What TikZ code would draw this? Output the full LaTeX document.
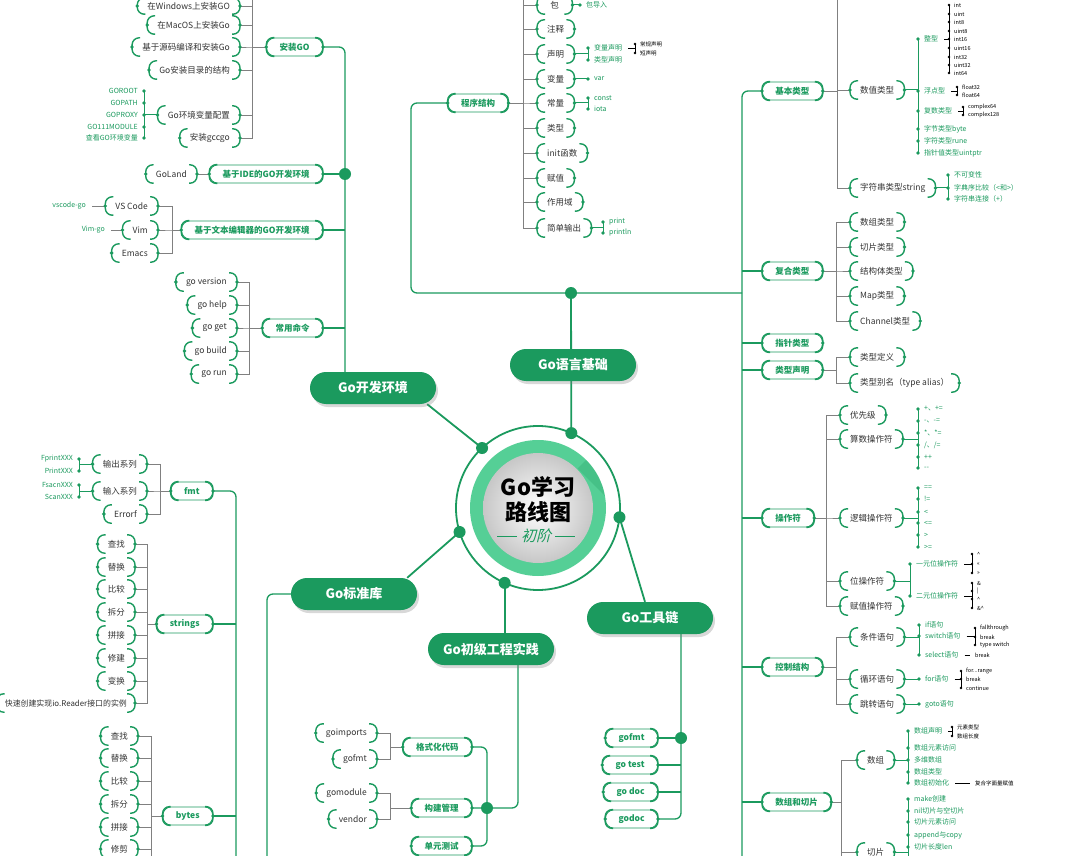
\documentclass[tikz,border=0pt]{standalone}
\usepackage{fontspec}
\setmainfont{Noto Sans CJK SC}
\newfontfamily\slantf[FakeSlant=0.25]{Noto Sans CJK SC}
\usetikzlibrary{shadows,backgrounds}
\definecolor{gm}{HTML}{1B9A5E}
\definecolor{glt}{HTML}{55CF96}
\definecolor{gy}{HTML}{808080}
\definecolor{tx}{HTML}{333333}
\tikzset{
 mainnode/.style={fill=gm, rounded corners=16pt, minimum width=126pt, minimum height=32pt, inner sep=0pt, text=white, font=\fontsize{13}{13}\selectfont\bfseries, drop shadow={opacity=0.3, shadow xshift=2pt, shadow yshift=-3pt}},
 leaf/.style={minimum height=18pt, minimum width=35pt, inner xsep=10pt, inner ysep=0pt, text=tx, font=\fontsize{8.5}{8.5}\selectfont},
 cat/.style={leaf, draw=gm, line width=0.8pt, rounded corners=8pt, inner xsep=13pt, text=gm, font=\fontsize{8.5}{8.5}\selectfont\bfseries},
 brk/.style={draw=gm, line width=1.4pt, rounded corners=7pt},
 gt/.style={anchor=west, inner xsep=6pt, inner ysep=1pt, text=gm, font=\fontsize{7}{7}\selectfont},
 gtl/.style={gt, anchor=east},
 bt/.style={anchor=west, inner xsep=5pt, inner ysep=0.5pt, text=black, font=\fontsize{5.5}{5.5}\selectfont},
 grl/.style={draw=gy, line width=0.9pt},
 gnl/.style={draw=gm, line width=1.3pt},
 gnl2/.style={draw=gm, line width=1pt},
 bkl/.style={draw=black, line width=0.8pt},
 ringl/.style={draw=gm, line width=1.8pt},
}
\newcommand{\mybrk}[1]{%
 \draw[brk] ([xshift=8pt]#1.north west) -- (#1.north west) -- (#1.south west) -- ([xshift=8pt]#1.south west);%
 \draw[brk] ([xshift=-8pt]#1.north east) -- (#1.north east) -- (#1.south east) -- ([xshift=-8pt]#1.south east);%
 \fill[gm] (#1.west) circle (1.9pt) (#1.east) circle (1.9pt);}
\newcommand{\grpL}[3]{\foreach \q in {#3}{\draw[grl] (#1.west) -- (#1.west -| #2) |- (\q.east);}}
\newcommand{\grpR}[3]{\foreach \q in {#3}{\draw[grl] (#1.east) -- (#1.east -| #2) |- (\q.west);}}
\newcommand{\gvl}[4]{\draw[gnl2] (#1.east) -- (#1.east -| #2.west); \draw[gnl2] (#2.west) -- (#3.west); \foreach \q in {#4}{\fill[gm] (\q.west) circle (1.8pt);}}
\newcommand{\gvlL}[4]{\draw[gnl2] (#1.west) -- (#1.west -| #2.east); \draw[gnl2] (#2.east) -- (#3.east); \foreach \q in {#4}{\fill[gm] (\q.east) circle (1.8pt);}}
\newcommand{\bvl}[4]{\draw[bkl] (#1.east) -- (#1.east -| #2.west); \draw[bkl] (#2.west) -- (#3.west); \foreach \q in {#4}{\fill[black] (\q.west) circle (1.4pt);}}
\begin{document}
\begin{tikzpicture}[x=1pt,y=-1pt]
\useasboundingbox (0,0) rectangle (1080,856);
\clip (0,0) rectangle (1080,856);
\coordinate (bottom) at (0,870);
% ---------- center ----------
\coordinate (C) at (538,508);
\draw[ringl] (C) circle (82pt);
\fill[glt] (C) circle (68pt);
\begin{scope}
 \clip (C) circle (68pt);
 \fill[gm, opacity=0.25] (C) ++(-45:56) -- ++(-45:60) -- ++(45:120) -- ++(135:60) -- cycle;
\end{scope}
\shade[inner color=white, outer color=black!22] (C) circle (55pt);
\node[font=\fontsize{22}{25}\selectfont\bfseries, align=center, text=black] (ttl) at (538,500) {Go学习\\路线图};
\node[text=gm, font=\slantf\fontsize{15}{15}\selectfont, inner sep=1pt] (sub) at (536,536) {初阶};
\draw[gm, line width=0.8pt] ([xshift=-3pt]sub.west) -- ++(-20,0);
\draw[gm, line width=0.8pt] ([xshift=3pt]sub.east) -- ++(20,0);
\path (C) ++(-133:82) coordinate (d1);
\path (C) ++(-66:82) coordinate (d2);
\path (C) ++(163:82) coordinate (d3);
\path (C) ++(114:82) coordinate (d4);
\path (C) ++(6.5:82) coordinate (d5);
\foreach \q in {d1,d2,d3,d4,d5} {\fill[gm] (\q) circle (6pt);}
% ---------- main nodes ----------
\node[mainnode] (gokf) at (373,388) {Go开发环境};
\node[mainnode] (gojc) at (573,365) {Go语言基础};
\node[mainnode] (gbzk) at (354,594) {Go标准库};
\node[mainnode] (gcj) at (491,649) {Go初级工程实践};
\node[mainnode] (ggj) at (650,618) {Go工具链};
% ---------- Go开发环境 ----------
\node[cat, anchor=east] (azgo) at (323,47) {安装GO};
\node[leaf, anchor=east, minimum height=16pt] (a1) at (240,6) {在Windows上安装GO};
\node[leaf, anchor=east] (a2) at (240,25) {在MacOS上安装Go};
\node[leaf, anchor=east] (a3) at (240,47) {基于源码编译和安装Go};
\node[leaf, anchor=east] (a4) at (240,70) {Go安装目录的结构};
\node[leaf, anchor=east] (a5) at (240,115) {Go环境变量配置};
\node[leaf, anchor=east] (a6) at (240,138) {安装gccgo};
\coordinate (ba) at (252,-10);
\node[gtl] (e1) at (144,91) {GOROOT};
\node[gtl] (e2) at (144,103) {GOPATH};
\node[gtl] (e3) at (144,115) {GOPROXY};
\node[gtl] (e4) at (144,127) {GO111MODULE};
\node[gtl] (e5) at (144,138) {查看GO环境变量};
\node[cat, anchor=east] (ide) at (323,174) {基于IDE的GO开发环境};
\node[leaf, anchor=east] (goland) at (197,174) {GoLand};
\node[cat, anchor=east] (wbbj) at (323,230) {基于文本编辑器的GO开发环境};
\node[leaf, anchor=east] (vsc) at (158,206) {VS Code};
\node[leaf, anchor=east] (vim) at (158,230) {Vim};
\node[leaf, anchor=east] (ems) at (158,253) {Emacs};
\coordinate (bw) at (172,0);
\node[gtl] (vsgo) at (92,206) {vscode-go};
\node[gtl] (vimgo) at (111,230) {Vim-go};
\node[cat, anchor=east] (cyml) at (323,328) {常用命令};
\node[leaf, anchor=east] (c1) at (237,282) {go version};
\node[leaf, anchor=east] (c2) at (237,305) {go help};
\node[leaf, anchor=east] (c3) at (237,328) {go get};
\node[leaf, anchor=east] (c4) at (237,351) {go build};
\node[leaf, anchor=east] (c5) at (237,374) {go run};
\coordinate (bc) at (249,0);
\coordinate (v1) at (345,380);
% ---------- Go语言基础 ----------
\node[cat] (cxjg) at (478,103) {程序结构};
\node[leaf, anchor=west] (p1) at (537,5) {包};
\node[leaf, anchor=west] (p2) at (537,29) {注释};
\node[leaf, anchor=west] (p3) at (537,54) {声明};
\node[leaf, anchor=west] (p4) at (537,79) {变量};
\node[leaf, anchor=west] (p5) at (537,103) {常量};
\node[leaf, anchor=west] (p6) at (537,128) {类型};
\node[leaf, anchor=west] (p7) at (537,153) {init函数};
\node[leaf, anchor=west] (p8) at (537,178) {赋值};
\node[leaf, anchor=west] (p9) at (537,202) {作用域};
\node[leaf, anchor=west] (p10) at (537,228) {简单输出};
\coordinate (bp) at (523,-10);
\node[gt] (bdr) at (580,5) {包导入};
\node[gt] (sm1) at (588,48) {变量声明};
\node[gt] (sm2) at (588,60) {类型声明};
\node[bt] (cg) at (635,44) {常规声明};
\node[bt] (dsm) at (635,53) {短声明};
\node[gt] (var) at (588,79) {var};
\node[gt] (cst) at (588,98) {const};
\node[gt] (iota) at (588,109) {iota};
\node[gt] (pr) at (603,222) {print};
\node[gt] (prl) at (603,233) {println};
\coordinate (L) at (411,293);
\coordinate (bd2) at (571,293);
\coordinate (R) at (742,293);
\coordinate (Rb) at (742,870);
% right side categories
\node[cat, anchor=west] (jblx) at (762,91) {基本类型};
\node[cat, anchor=west] (fhlx) at (762,271) {复合类型};
\node[cat, anchor=west] (zzlx) at (762,343) {指针类型};
\node[cat, anchor=west] (lxsm) at (762,370) {类型声明};
\node[cat, anchor=west] (czf) at (762,518) {操作符};
\node[cat, anchor=west] (kzjg) at (762,667) {控制结构};
\node[cat, anchor=west] (szqp) at (762,802) {数组和切片};
% 基本类型
\coordinate (bj) at (837,-10);
\node[leaf, anchor=west] (szlx) at (850,90) {数值类型};
\node[leaf, anchor=west] (zfclx) at (850,188) {字符串类型string};
\node[gt] (zx) at (918,39) {整型};
\node[gt] (fdx) at (918,91) {浮点型};
\node[gt] (fsx) at (918,111) {复数类型};
\node[gt] (zjb) at (918,129) {字节类型byte};
\node[gt] (zfr) at (918,141) {字符类型rune};
\node[gt] (uptr) at (918,153) {指针值类型uintptr};
\node[bt] (i1) at (949,5) {int};
\node[bt] (i2) at (949,14) {uint};
\node[bt] (i3) at (949,22) {int8};
\node[bt] (i4) at (949,31) {uint8};
\node[bt] (i5) at (949,39) {int16};
\node[bt] (i6) at (949,48) {uint16};
\node[bt] (i7) at (949,57) {int32};
\node[bt] (i8) at (949,65) {uint32};
\node[bt] (i9) at (949,73) {int64};
\node[bt] (f32) at (957,87) {float32};
\node[bt] (f64) at (957,95) {float64};
\node[bt] (c64) at (963,107) {complex64};
\node[bt] (c128) at (963,115) {complex128};
\node[gt] (sa) at (948,175) {不可变性};
\node[gt] (sb) at (948,188) {字典序比较（<和>）};
\node[gt] (sc) at (948,199) {字符串连接（+）};
% 复合类型
\coordinate (bf) at (836,0);
\node[leaf, anchor=west] (f1) at (850,222) {数组类型};
\node[leaf, anchor=west] (f2) at (850,247) {切片类型};
\node[leaf, anchor=west] (f3) at (850,271) {结构体类型};
\node[leaf, anchor=west] (f4) at (850,296) {Map类型};
\node[leaf, anchor=west] (f5) at (850,321) {Channel类型};
\node[leaf, anchor=west] (t1) at (850,357) {类型定义};
\node[leaf, anchor=west] (t2) at (850,383) {类型别名（type alias）};
% 操作符
\coordinate (bo) at (826,0);
\node[leaf, anchor=west] (o1) at (840,415) {优先级};
\node[leaf, anchor=west] (o2) at (840,439) {算数操作符};
\node[leaf, anchor=west] (o3) at (840,518) {逻辑操作符};
\node[leaf, anchor=west] (o4) at (840,581) {位操作符};
\node[leaf, anchor=west] (o5) at (840,606) {赋值操作符};
\node[gt] (ar1) at (918,409) {+、+=};
\node[gt] (ar2) at (918,421) {-、-=};
\node[gt] (ar3) at (918,433) {*、*=};
\node[gt] (ar4) at (918,445) {/、/=};
\node[gt] (ar5) at (918,457) {++};
\node[gt] (ar6) at (918,468) {-{}-};
\node[gt] (lg1) at (918,488) {==};
\node[gt] (lg2) at (918,499) {!=};
\node[gt] (lg3) at (918,512) {<};
\node[gt] (lg4) at (918,523) {<=};
\node[gt] (lg5) at (918,535) {>};
\node[gt] (lg6) at (918,547) {>=};
\node[gt] (wy) at (910,564) {一元位操作符};
\node[gt] (we) at (910,596) {二元位操作符};
\node[bt] (u1) at (972,554) {\textasciicircum};
\node[bt] (u2) at (972,564) {<<};
\node[bt] (u3) at (972,573) {>>};
\node[bt] (b1) at (972,583) {\&};
\node[bt] (b2) at (972,591) {|};
\node[bt] (b3) at (972,599) {\textasciicircum};
\node[bt] (b4) at (972,608) {\&\textasciicircum};
% 控制结构
\node[leaf, anchor=west] (k1) at (850,637) {条件语句};
\node[leaf, anchor=west] (k2) at (850,679) {循环语句};
\node[leaf, anchor=west] (k3) at (850,704) {跳转语句};
\node[gt] (kif) at (919,625) {if语句};
\node[gt] (sw) at (919,636) {switch语句};
\node[gt] (sel) at (919,655) {select语句};
\node[bt] (ft) at (975,628) {fallthrough};
\node[bt] (bk) at (975,637) {break};
\node[bt] (ts) at (975,645) {type switch};
\node[bt] (sbrk) at (970,655) {break};
\node[gt] (kfor) at (919,679) {for语句};
\node[bt] (fr) at (961,671) {for...range};
\node[bt] (fb) at (961,679) {break};
\node[bt] (ct) at (961,688) {continue};
\node[gt] (kgoto) at (919,704) {goto语句};
% 数组和切片
\coordinate (bs) at (841,870);
\node[leaf, anchor=west] (sz) at (857,760) {数组};
\node[leaf, anchor=west] (qp) at (857,852) {切片};
\node[gt] (szsm) at (908,731) {数组声明};
\node[gt] (fw) at (908,748) {数组元素访问};
\node[gt] (dw) at (908,760) {多维数组};
\node[gt] (szl) at (908,772) {数组类型};
\node[gt] (csh) at (908,783) {数组初始化};
\node[bt] (ys) at (952,727) {元素类型};
\node[bt] (cd) at (952,736) {数组长度};
\node[bt] (fhzm) at (970,783) {复合字面量赋值};
\node[gt] (mk) at (908,799) {make创建};
\node[gt] (nil) at (908,811) {nil切片与空切片};
\node[gt] (qf) at (908,822) {切片元素访问};
\node[gt] (ap) at (908,835) {append与copy};
\node[gt] (len) at (908,847) {切片长度len};
% ---------- Go标准库 ----------
\coordinate (Lb) at (267,870);
\coordinate (Lb2) at (236,870);
\node[cat, anchor=east] (fmt) at (213,491) {fmt};
\node[cat, anchor=east] (strs) at (213,624) {strings};
\node[cat, anchor=east] (bts) at (213,816) {bytes};
\coordinate (bfm) at (160,0);
\node[leaf, anchor=east] (s1) at (147,464) {输出系列};
\node[leaf, anchor=east] (s2) at (147,491) {输入系列};
\node[leaf, anchor=east] (s3) at (147,514) {Errorf};
\node[gtl] (fp1) at (79,459) {FprintXXX};
\node[gtl] (fp2) at (79,471) {PrintXXX};
\node[gtl] (fs1) at (79,485) {FsacnXXX};
\node[gtl] (fs2) at (79,497) {ScanXXX};
\coordinate (bst) at (147,0);
\node[leaf, anchor=east] (r1) at (135,544) {查找};
\node[leaf, anchor=east] (r2) at (135,567) {替换};
\node[leaf, anchor=east] (r3) at (135,589) {比较};
\node[leaf, anchor=east] (r4) at (135,612) {拆分};
\node[leaf, anchor=east] (r5) at (135,635) {拼接};
\node[leaf, anchor=east] (r6) at (135,658) {修建};
\node[leaf, anchor=east] (r7) at (135,681) {变换};
\node[leaf, anchor=east, inner xsep=8pt, font=\fontsize{7.9}{7.9}\selectfont] (r8) at (135,703) {快速创建实现io.Reader接口的实例};
\coordinate (bby) at (151,870);
\node[leaf, anchor=east] (y1) at (138,736) {查找};
\node[leaf, anchor=east] (y2) at (138,758) {替换};
\node[leaf, anchor=east] (y3) at (138,781) {比较};
\node[leaf, anchor=east] (y4) at (138,804) {拆分};
\node[leaf, anchor=east] (y5) at (138,827) {拼接};
\node[leaf, anchor=east] (y6) at (138,849) {修剪};
% ---------- Go初级工程实践 ----------
\coordinate (P1) at (518,655);
\coordinate (bd4) at (487,808);
\node[cat, anchor=east] (gshdm) at (472,747) {格式化代码};
\node[cat, anchor=east] (gjgl) at (472,808) {构建管理};
\node[cat, anchor=east] (dycs) at (472,846) {单元测试};
\coordinate (bg) at (390,0);
\node[leaf, anchor=east] (gi) at (377,733) {goimports};
\node[leaf, anchor=east] (gf) at (377,759) {gofmt};
\node[leaf, anchor=east] (gmod) at (377,793) {gomodule};
\node[leaf, anchor=east] (gv) at (377,819) {vendor};
% ---------- Go工具链 ----------
\coordinate (P2) at (681,625);
\node[cat, anchor=east] (gofmt2) at (658,738) {gofmt};
\node[cat, anchor=east] (gotest) at (658,765) {go test};
\node[cat, anchor=east] (gd1) at (658,792) {go doc};
\node[cat, anchor=east] (gd2) at (658,819) {godoc};
% ---------- brackets ----------
\foreach \q in {a1,a2,a3,a4,a5,a6,goland,vsc,vim,ems,c1,c2,c3,c4,c5,p1,p2,p3,p4,p5,p6,p7,p8,p9,p10,szlx,zfclx,f1,f2,f3,f4,f5,t1,t2,o1,o2,o3,o4,o5,k1,k2,k3,sz,qp,s1,s2,s3,r1,r2,r3,r4,r5,r6,r7,r8,y1,y2,y3,y4,y5,y6,gi,gf,gmod,gv,azgo,ide,wbbj,cyml,cxjg,jblx,fhlx,zzlx,lxsm,czf,kzjg,szqp,fmt,strs,bts,gshdm,gjgl,dycs,gofmt2,gotest,gd1,gd2} {\mybrk{\q}}
% ---------- leaf dot groups ----------
\gvlL{a5}{e1}{e5}{e1,e2,e3,e4,e5}
\gvlL{s1}{fp1}{fp2}{fp1,fp2}
\gvlL{s2}{fs1}{fs2}{fs1,fs2}
\gvl{p1}{bdr}{bdr}{bdr}
\gvl{p3}{sm1}{sm2}{sm1,sm2}
\bvl{sm1}{cg}{dsm}{cg,dsm}
\gvl{p4}{var}{var}{var}
\gvl{p5}{cst}{iota}{cst,iota}
\gvl{p10}{pr}{prl}{pr,prl}
\gvl{szlx}{zx}{uptr}{zx,fdx,fsx,zjb,zfr,uptr}
\bvl{zx}{i1}{i9}{i1,i2,i3,i4,i5,i6,i7,i8,i9}
\bvl{fdx}{f32}{f64}{f32,f64}
\bvl{fsx}{c64}{c128}{c64,c128}
\gvl{zfclx}{sa}{sc}{sa,sb,sc}
\gvl{o2}{ar1}{ar6}{ar1,ar2,ar3,ar4,ar5,ar6}
\gvl{o3}{lg1}{lg6}{lg1,lg2,lg3,lg4,lg5,lg6}
\gvl{o4}{wy}{we}{wy,we}
\bvl{wy}{u1}{u3}{u1,u2,u3}
\bvl{we}{b1}{b4}{b1,b2,b3,b4}
\gvl{k1}{kif}{sel}{kif,sw,sel}
\bvl{sw}{ft}{ts}{ft,bk,ts}
\draw[bkl] (sel.east) -- (sbrk.west);
\gvl{k2}{kfor}{kfor}{kfor}
\bvl{kfor}{fr}{ct}{fr,fb,ct}
\gvl{k3}{kgoto}{kgoto}{kgoto}
\gvl{sz}{szsm}{csh}{szsm,fw,dw,szl,csh}
\bvl{szsm}{ys}{cd}{ys,cd}
\draw[bkl] (csh.east) -- (fhzm.west);
\gvl{qp}{mk}{len}{mk,nil,qf,ap,len}
\draw[gnl2] (len.west) -- (len.west |- bottom);
% ---------- connectors (background) ----------
\begin{pgfonlayer}{background}
\fill[white] (0,0) rectangle (1080,856);
% ring to main nodes
\draw[ringl] ([xshift=-9pt]gokf.south east) -- (d1);
\draw[ringl] (d2) -- (bd2);
\draw[ringl] ([xshift=-10pt]gbzk.north east) -- (d3);
\draw[ringl] (d4) -- (d4 |- gcj.north);
\draw[ringl] (d5) -- ([xshift=-5pt]ggj.north);
% Go开发环境
\draw[gnl, rounded corners=6pt] (azgo.east) -| (v1);
\foreach \q in {ide,wbbj,cyml} {\draw[gnl] (\q.east) -- (\q.east -| v1);}
\fill[gm] (ide.east -| v1) circle (6pt);
\grpL{azgo}{ba}{a1,a2,a3,a4,a5,a6}
\draw[grl] (a1.east -| ba) -- (ba);
\draw[grl] (ide.west) -- (goland.east);
\grpL{wbbj}{bw}{vsc,vim,ems}
\draw[grl] (vsgo.east) -- (vsc.west);
\draw[grl] (vimgo.east) -- (vim.west);
\grpL{cyml}{bc}{c1,c2,c3,c4,c5}
% Go语言基础
\draw[gnl, rounded corners=6pt] (cxjg.west) -- (cxjg.west -| L) |- (R);
\draw[gnl, rounded corners=6pt] (jblx.west) -| (Rb);
\foreach \q in {fhlx,zzlx,lxsm,czf,kzjg,szqp} {\draw[gnl] (\q.west) -- (\q.west -| R);}
\fill[gm] (bd2) circle (6pt);
\grpR{cxjg}{bp}{p1,p2,p3,p4,p5,p6,p7,p8,p9,p10}
\draw[grl] (p1.west -| bp) -- (bp);
\grpR{jblx}{bj}{szlx,zfclx}
\draw[grl] (szlx.west -| bj) -- (bj);
\grpR{fhlx}{bf}{f1,f2,f3,f4,f5}
\grpR{lxsm}{bf}{t1,t2}
\grpR{czf}{bo}{o1,o2,o3,o4,o5}
\grpR{kzjg}{bf}{k1,k2,k3}
\grpR{szqp}{bs}{sz,qp}
\draw[grl] (qp.west -| bs) -- (bs);
% Go标准库
\draw[gnl, rounded corners=6pt] (gbzk.west) -| (Lb);
\draw[gnl, rounded corners=6pt] (fmt.east) -| (Lb2);
\draw[gnl] (strs.east) -- (strs.east -| Lb2);
\draw[gnl] (bts.east) -- (bts.east -| Lb2);
\grpL{fmt}{bfm}{s1,s2,s3}
\grpL{strs}{bst}{r1,r2,r3,r4,r5,r6,r7,r8}
\grpL{bts}{bby}{y1,y2,y3,y4,y5,y6}
\draw[grl] (y6.east -| bby) -- (bby);
% Go初级工程实践
\draw[gnl, rounded corners=6pt] (P1) |- (gjgl.east);
\draw[gnl, rounded corners=6pt] (gshdm.east) -| (bd4) |- (dycs.east);
\fill[gm] (bd4) circle (6pt);
\grpL{gshdm}{bg}{gi,gf}
\grpL{gjgl}{bg}{gmod,gv}
% Go工具链
\draw[gnl, rounded corners=6pt] (P2) |- (gd2.east);
\foreach \q in {gofmt2,gotest,gd1} {\draw[gnl] (\q.east) -- (\q.east -| P2);}
\fill[gm] (gofmt2.east -| P2) circle (6pt);
\end{pgfonlayer}
\end{tikzpicture}
\end{document}
